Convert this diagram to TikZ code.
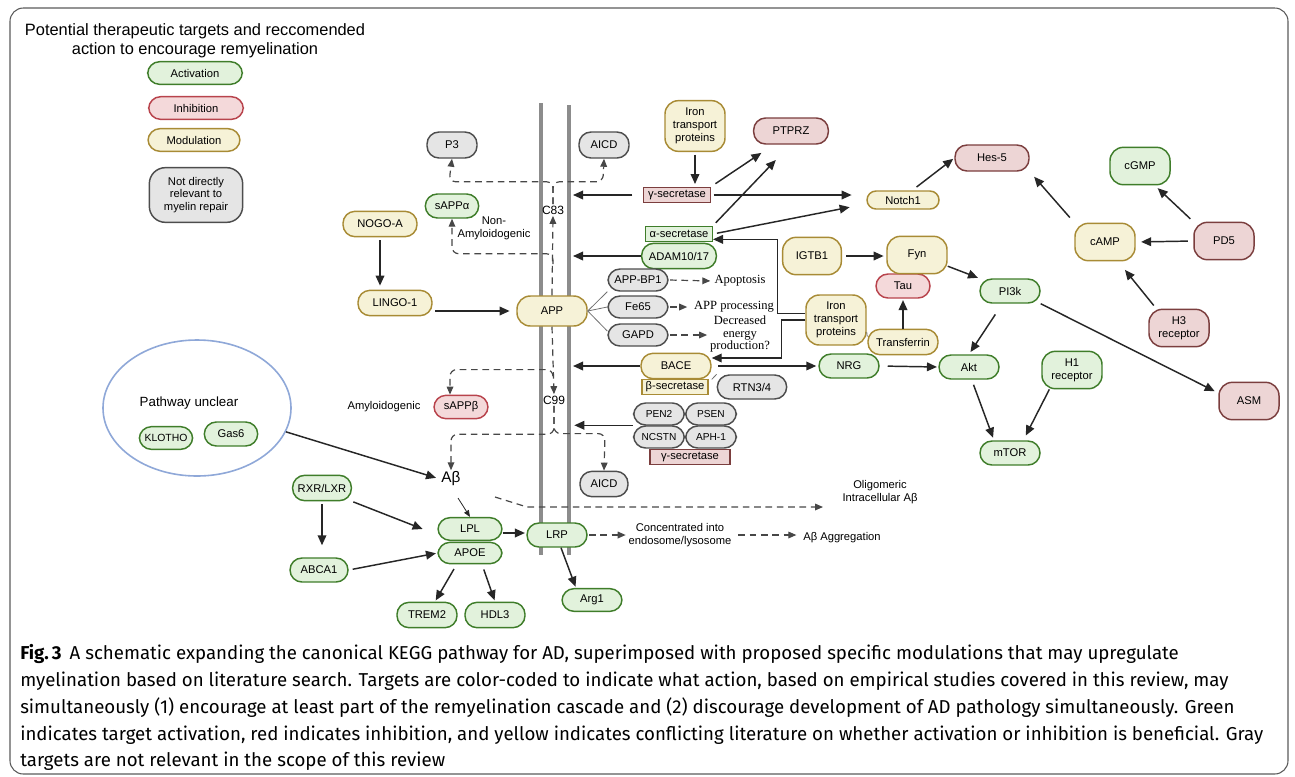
\documentclass[tikz,border=0pt]{standalone}
\usepackage{fontspec}
\usepackage{tikz}
\setmainfont{Liberation Sans}
\newfontfamily\capfont{Fira Sans}
\newfontfamily\notefont{Liberation Serif}
\usetikzlibrary{
  arrows.meta,
  shapes,
  shapes.geometric,
  positioning,
  calc
}
\definecolor{actFill}{HTML}{E2F2DC}
\definecolor{actLine}{HTML}{3F7D2A}
\definecolor{inhFill}{HTML}{F4D9DA}
\definecolor{inhLine}{HTML}{B8434C}
\definecolor{inhFillD}{HTML}{EDD5D5}
\definecolor{inhDark}{HTML}{7B3E3E}
\definecolor{modFill}{HTML}{F6F2D7}
\definecolor{modLine}{HTML}{A88B35}
\definecolor{nrFill}{HTML}{E5E5E5}
\definecolor{nrLine}{HTML}{4D4D4D}
\definecolor{memGray}{HTML}{8C8C8C}
\definecolor{ink}{HTML}{262626}
\definecolor{unclearBlue}{HTML}{8FA8D8}
\definecolor{frameGray}{HTML}{5A5A5A}
\newcommand{\tgtfont}{\fontsize{8.4}{9.6}\selectfont}

\tikzset{
  tgt/.style={rounded corners=9pt, line width=1.1pt, minimum width=45pt, minimum height=18pt,
    inner sep=1pt, font=\tgtfont, align=center},
  act/.style={tgt, fill=actFill, draw=actLine},
  inh/.style={tgt, fill=inhFill, draw=inhLine},
  inhd/.style={tgt, fill=inhFillD, draw=inhDark},
  mod/.style={tgt, fill=modFill, draw=modLine},
  nr/.style={tgt, fill=nrFill, draw=nrLine},
  tall/.style={minimum height=28pt, rounded corners=10pt},
  enz/.style={rectangle, line width=1pt, inner sep=1pt, minimum width=50pt, minimum height=11.5pt, font=\tgtfont},
  lbl/.style={font=\tgtfont, align=center, inner sep=1pt},
  note/.style={font=\notefont\fontsize{9.4}{9.6}\selectfont, align=center, inner sep=1pt},
  arr/.style={draw=ink, line width=1.1pt, -{Triangle[length=7.5pt,width=6.5pt]}},
  dasharr/.style={draw=ink!85, line width=0.9pt, dash pattern=on 5pt off 3.5pt, -{Triangle[length=6pt,width=5pt]}},
  link/.style={draw=nrLine!80, line width=0.6pt},
  mem/.style={draw=memGray, line width=3pt},
  capline/.style={anchor=base west, inner sep=0pt, font=\capfont\fontsize{14}{16}\selectfont}
}

\begin{document}
\begin{tikzpicture}[x=0.75pt, y=-0.75pt]
  \useasboundingbox (0,0) rectangle (1295,776);
  \draw[frameGray, line width=0.8pt, rounded corners=10pt] (10,8) rectangle (1288,774);

  \node[font=\fontsize{12.3}{14}\selectfont, align=center] (title) at (195,41)
    {Potential therapeutic targets and reccomended\\action to encourage remyelination};
  \node[act, minimum width=71pt, minimum height=17pt] (legAct) at (195,73) {Activation};
  \node[inh, minimum width=71pt, minimum height=17pt] (legInh) at (196,108) {Inhibition};
  \node[mod, minimum width=69pt, minimum height=17pt] (legMod) at (194,140) {Modulation};
  \node[nr, minimum width=70pt, minimum height=41pt, rounded corners=12pt] (legNR) at (196,195)
    {Not directly\\relevant to\\myelin repair};

  \coordinate (memLt) at (541,103);
  \coordinate (memLb) at (541,555);
  \coordinate (memRt) at (569,105);
  \coordinate (memRb) at (569,555);
  \draw[mem] (memLt) -- (memLb);
  \draw[mem] (memRt) -- (memRb);

  \node[nr, minimum width=37.5pt, minimum height=19.5pt] (P3) at (452,145) {P3};
  \node[nr, minimum width=37.5pt, minimum height=19.5pt] (AICDa) at (604,145) {AICD};
  \node[act, minimum width=40pt] (sAPPa) at (452,206) {sAPPα};
  \node[mod, minimum width=55.5pt, minimum height=19pt] (NOGO) at (380,224) {NOGO-A};
  \node[mod, minimum width=55.5pt, minimum height=19pt] (LINGO) at (395,303) {LINGO-1};
  \node[mod, minimum width=52.5pt, minimum height=22.5pt, rounded corners=10pt] (APP) at (552,311) {APP};
  \node[lbl, font=\fontsize{9}{10}\selectfont] (C83) at (553,210) {C83};
  \node[lbl, font=\fontsize{9}{10}\selectfont] (C99) at (554,400) {C99};
  \node[lbl] (nonAmy) at (494,228) {Non-\\Amyloidogenic};
  \node[lbl] (amy) at (384,407) {Amyloidogenic};
  \node[inh, minimum width=40.5pt, minimum height=17.5pt] (sAPPb) at (461,407) {sAPPβ};
  \node[font=\fontsize{11.5}{12}\selectfont, inner sep=1pt] (Ab) at (451,479) {Aβ};
  \node[nr, minimum width=36pt, minimum height=19pt] (AICDb) at (604,484) {AICD};

  \node[mod, tall, minimum width=45pt, minimum height=38pt] (ironA) at (695,126) {Iron\\transport\\proteins};
  \node[inhd, minimum width=56pt, minimum height=19.5pt] (PTPRZ) at (791,131) {PTPRZ};
  \node[enz, fill=inhFillD, draw=inhDark] (gsecA) at (677,195) {γ-secretase};
  \node[enz, fill=actFill, draw=actLine] (asec) at (679,234) {α-secretase};
  \node[act, minimum width=56pt, minimum height=19pt] (ADAM) at (679,256) {ADAM10/17};
  \node[mod, tall, minimum width=44pt] (IGTB1) at (812,256) {IGTB1};
  \node[nr, minimum height=16.5pt] (bp1) at (638,280) {APP-BP1};
  \node[nr, minimum height=16.5pt] (fe65) at (638,307) {Fe65};
  \node[nr, minimum height=16.5pt] (gapd) at (638,335) {GAPD};
  \node[note] (apopTxt) at (740,281) {Apoptosis};
  \node[note] (procTxt) at (734,307) {APP processing};
  \node[note, font=\notefont\fontsize{9.4}{9.2}\selectfont] (energyTxt) at (740,334) {Decreased\\energy\\production?};
  \node[mod, tall, minimum width=45pt, minimum height=37.5pt] (ironB) at (836,320) {Iron\\transport\\proteins};
  \node[mod, minimum width=52.5pt, minimum height=19pt] (BACE) at (676,366) {BACE};
  \node[enz, fill=modFill, draw=modLine, minimum width=49.5pt] (bsec) at (675,387) {β-secretase};
  \node[nr, minimum width=52pt] (RTN) at (752,387) {RTN3/4};
  \node[nr, minimum height=16.5pt, minimum width=38pt, font=\fontsize{7.6}{9}\selectfont] (PEN2) at (659,414) {PEN2};
  \node[nr, minimum height=16.5pt, minimum width=38pt, font=\fontsize{7.6}{9}\selectfont] (PSEN) at (711,414) {PSEN};
  \node[nr, minimum height=16.5pt, minimum width=38pt, font=\fontsize{7.6}{9}\selectfont] (NCSTN) at (659,437) {NCSTN};
  \node[nr, minimum height=16.5pt, minimum width=38pt, font=\fontsize{7.6}{9}\selectfont] (APH1) at (711,437) {APH-1};
  \node[enz, fill=inhFillD, draw=inhDark, minimum width=60pt, minimum height=11pt] (gsecB) at (690,457) {γ-secretase};

  \node[act] (NRG) at (849,366) {NRG};
  \node[act] (Akt) at (969,367) {Akt};
  \node[mod, minimum width=52.5pt, minimum height=19pt] (trf) at (903,342) {Transferrin};
  \node[inh, minimum width=40.5pt] (Tau) at (903,286) {Tau};
  \node[mod, tall] (Fyn) at (917,255) {Fyn};
  \node[act] (PI3k) at (1010,291) {PI3k};
  \node[mod, minimum width=54pt, minimum height=13.5pt, rounded corners=6.75pt] (Notch1) at (903,200) {Notch1};
  \node[inhd, minimum width=55.5pt, minimum height=19.5pt] (Hes5) at (992,158) {Hes-5};
  \node[act, tall] (cGMP) at (1140,166) {cGMP};
  \node[mod, tall] (cAMP) at (1105,242) {cAMP};
  \node[inhd, tall] (PD5) at (1224,241) {PD5};
  \node[inhd, tall] (H3) at (1179,328) {H3\\receptor};
  \node[inhd, tall] (ASM) at (1249,401) {ASM};
  \node[act, tall] (H1) at (1072,370) {H1\\receptor};
  \node[act] (mTOR) at (1010,453) {mTOR};

  \node[ellipse, draw=unclearBlue, line width=1.2pt, minimum width=141pt, minimum height=102pt] (unclear) at (197,408) {};
  \node[font=\fontsize{10}{12}\selectfont] (pwTxt) at (189,403) {Pathway unclear};
  \node[act, minimum width=40pt, minimum height=17pt, font=\fontsize{7.8}{9}\selectfont] (KLOTHO) at (166,438) {KLOTHO};
  \node[act, minimum width=40pt] (Gas6) at (231,434) {Gas6};
  \node[act, minimum width=44pt, minimum height=19pt] (RXR) at (322,488) {RXR/LXR};
  \node[act, minimum width=43.5pt] (ABCA1) at (319,570) {ABCA1};
  \node[act, minimum width=48pt, minimum height=17pt] (LPL) at (470,529) {LPL};
  \node[act, minimum width=48pt, minimum height=16pt] (APOE) at (470,553) {APOE};
  \node[act] (LRP) at (557,535) {LRP};
  \node[act, minimum height=19pt] (TREM2) at (427,615) {TREM2};
  \node[act, minimum height=19pt] (HDL3) at (495,615) {HDL3};
  \node[act, minimum height=17pt] (Arg1) at (592,600) {Arg1};
  \node[lbl] (concTxt) at (680,535) {Concentrated into\\endosome/lysosome};
  \node[lbl] (aggTxt) at (842,538) {Aβ Aggregation};
  \node[lbl] (oligTxt) at (880,492) {Oligomeric\\Intracellular Aβ};

  \draw[arr, shorten <=2pt, shorten >=3pt] (NOGO.south) -- (NOGO.south |- LINGO.north);
  \draw[arr, shorten <=2pt, shorten >=5pt] (LINGO.east |- APP.west) -- (APP.west);
  \draw[arr, shorten <=2pt, shorten >=2pt] (ironA.south) -- (ironA.south |- gsecA.north);
  \draw[arr, shorten <=8pt, shorten >=3pt] (gsecA.west) -- (gsecA.west -| memRt);
  \draw[arr, shorten <=2pt, shorten >=11pt] (gsecA.east) -- (gsecA.east -| Notch1.west);
  \draw[arr, shorten <=4pt, shorten >=2pt] (gsecA.north east) -- ([xshift=8pt, yshift=-5pt]PTPRZ.south west);
  \draw[arr, shorten <=3pt, shorten >=2pt] (asec.north east) -- ([xshift=-10pt, yshift=-10pt]PTPRZ.south);
  \draw[arr, shorten <=3pt, shorten >=2pt] (asec.east) -- ([xshift=-10.5pt, yshift=-5pt]Notch1.west);
  \draw[arr, shorten >=3pt] (ADAM.west) -- (ADAM.west -| memRt);
  \draw[arr] ([yshift=5pt]ironB.west) -- ++(-28,0) |- ([yshift=-4pt]asec.east);
  \draw[arr] (ironB.west) -- ++(-24,0) |- ([yshift=6pt]BACE.east);
  \draw[link] ([yshift=-9pt]ironB.east) -- ([yshift=4pt]trf.west);
  \draw[arr, shorten <=3pt, shorten >=2pt] (IGTB1.east) -- (IGTB1.east -| Fyn.west);
  \draw[arr, shorten >=1pt] (Fyn.-20) -- (PI3k.north west);
  \draw[arr, shorten >=1pt] (trf.north) -- (Tau.south);
  \draw[arr, shorten >=2pt] ([xshift=-11pt, yshift=-8pt]PI3k.south) -- (Akt.north);
  \draw[arr, shorten >=3pt] (PI3k.south east) -- ([yshift=6pt]ASM.west);
  \draw[arr, shorten <=6pt, shorten >=1pt] (NRG.east) -- (Akt.west);
  \draw[arr, shorten <=5pt, shorten >=1.5pt] (BACE.east) -- (NRG.west);
  \draw[arr, shorten >=3pt] (BACE.west) -- (BACE.west -| memRt);
  \draw[link] (RTN.north west) -- (BACE.south east);
  \draw[arr, shorten <=4pt, shorten >=2pt] ([xshift=2pt]Akt.south) -- ([xshift=-12pt]mTOR.north);
  \draw[arr, shorten >=4pt] ([xshift=-17pt]H1.south) -- ([xshift=10pt]mTOR.north);
  \draw[arr, shorten <=4pt, shorten >=1pt] ([xshift=7pt]Notch1.north) -- (Hes5.west);
  \draw[arr, shorten <=5pt, shorten >=5pt] (cAMP.north west) -- (Hes5.south east);
  \draw[arr, shorten <=4pt, shorten >=4pt] (PD5.west) -- (cAMP.east);
  \draw[arr, shorten <=3pt, shorten >=3pt] (PD5.north west) -- ([xshift=-12pt]cGMP.south east);
  \draw[arr, shorten <=3pt, shorten >=3pt] ([xshift=6pt]H3.north west) -- ([xshift=-10pt, yshift=-4pt]cAMP.south east);
  \draw[arr, shorten >=4pt] (NCSTN.north west) -- (NCSTN.north west -| memRt);

  \draw[link] (APP.east) -- (bp1.south west);
  \draw[link] (APP.east) -- (fe65.west);
  \draw[link] (APP.east) -- ([yshift=3pt]gapd.west);
  \draw[dasharr, shorten <=1pt, shorten >=2pt] (bp1.east) -- (apopTxt.west);
  \draw[dasharr, shorten <=1pt, shorten >=4pt] (fe65.east) -- (procTxt.west);
  \draw[dasharr, shorten <=1pt, shorten >=1pt] (gapd.east) -- (gapd.east -| energyTxt.west);

  \draw[dasharr] (APP.north) -- (C83.south);
  \draw[dasharr, rounded corners=5pt] (C83.north) |- ($(P3.south)+(-3,23)$) -- (P3.south);
  \draw[dasharr, rounded corners=5pt] (C83.north) |- ($(AICDa.south)+(-1,23)$) -- (AICDa.south);
  \coordinate (nonAmyBr) at (553,264);
  \draw[dasharr, rounded corners=5pt] (nonAmyBr) |- ($(sAPPa.south)+(0,35)$) -- (sAPPa.south);
  \draw[dasharr] (APP.south) -- (C99.north);
  \coordinate (amyBr) at (553,376);
  \draw[dasharr, rounded corners=5pt] (amyBr) |- ($(sAPPb.north)+(-11,-25)$) -- ($(sAPPb.north)+(-11,0)$);
  \draw[dasharr, rounded corners=5pt] (C99.south) |- ($(Ab.north)+(0,-36)$) -- (Ab.north);
  \draw[dasharr, rounded corners=5pt] (C99.south) |- ($(AICDb.north)+(1,-37)$) -- (AICDb.north);
  \coordinate (oligA) at (495,497);
  \coordinate (oligB) at (527,507);
  \coordinate (oligC) at (823,507);
  \draw[dasharr] (oligA) -- (oligB) -- (oligC);
  \coordinate (abLpl) at (458,498);
  \draw[draw=ink, line width=0.6pt, -{Triangle[length=5pt,width=4pt]}] (abLpl) -- (LPL.north);

  \draw[arr, shorten >=3pt] (unclear.-15) -- (Ab.west);
  \draw[arr, shorten <=2pt, shorten >=9pt] (RXR.south) -- (RXR.south |- ABCA1.north);
  \draw[arr, shorten <=1pt] (RXR.south east) -- ([xshift=-11pt]LPL.west);
  \draw[arr, shorten <=3pt, shorten >=1pt] (ABCA1.east) -- (APOE.west);
  \draw[arr, shorten >=1pt] ([yshift=-3pt]LPL.east) -- ([yshift=-3pt]LPL.east -| LRP.west);
  \draw[arr, shorten <=4pt, shorten >=1pt] ([xshift=-10pt]APOE.south) -- ([xshift=6pt]TREM2.north);
  \draw[arr, shorten <=4pt, shorten >=1pt] ([xshift=9pt]APOE.south) -- (HDL3.north);
  \draw[arr, shorten >=1pt] ([xshift=3pt]LRP.south) -- ([xshift=-12pt]Arg1.north);
  \draw[dasharr, shorten <=1pt, shorten >=1pt] (LRP.east) -- (LRP.east -| concTxt.west);
  \draw[dasharr, shorten <=4pt, shorten >=4pt] (concTxt.east) -- (concTxt.east -| aggTxt.west);

  \node[capline] (cap1) at (20,659) {\textbf{Fig.\,3}\hspace{6pt}A schematic expanding the canonical KEGG pathway for AD, superimposed with proposed specific modulations that may upregulate};
  \node[capline] (cap2) at (20,686) {myelination based on literature search. Targets are color-coded to indicate what action, based on empirical studies covered in this review, may};
  \node[capline] (cap3) at (20,713) {simultaneously (1) encourage at least part of the remyelination cascade and (2) discourage development of AD pathology simultaneously. Green};
  \node[capline] (cap4) at (20,740) {indicates target activation, red indicates inhibition, and yellow indicates conflicting literature on whether activation or inhibition is beneficial. Gray};
  \node[capline] (cap5) at (20,766) {targets are not relevant in the scope of this review};
\end{tikzpicture}
\end{document}
